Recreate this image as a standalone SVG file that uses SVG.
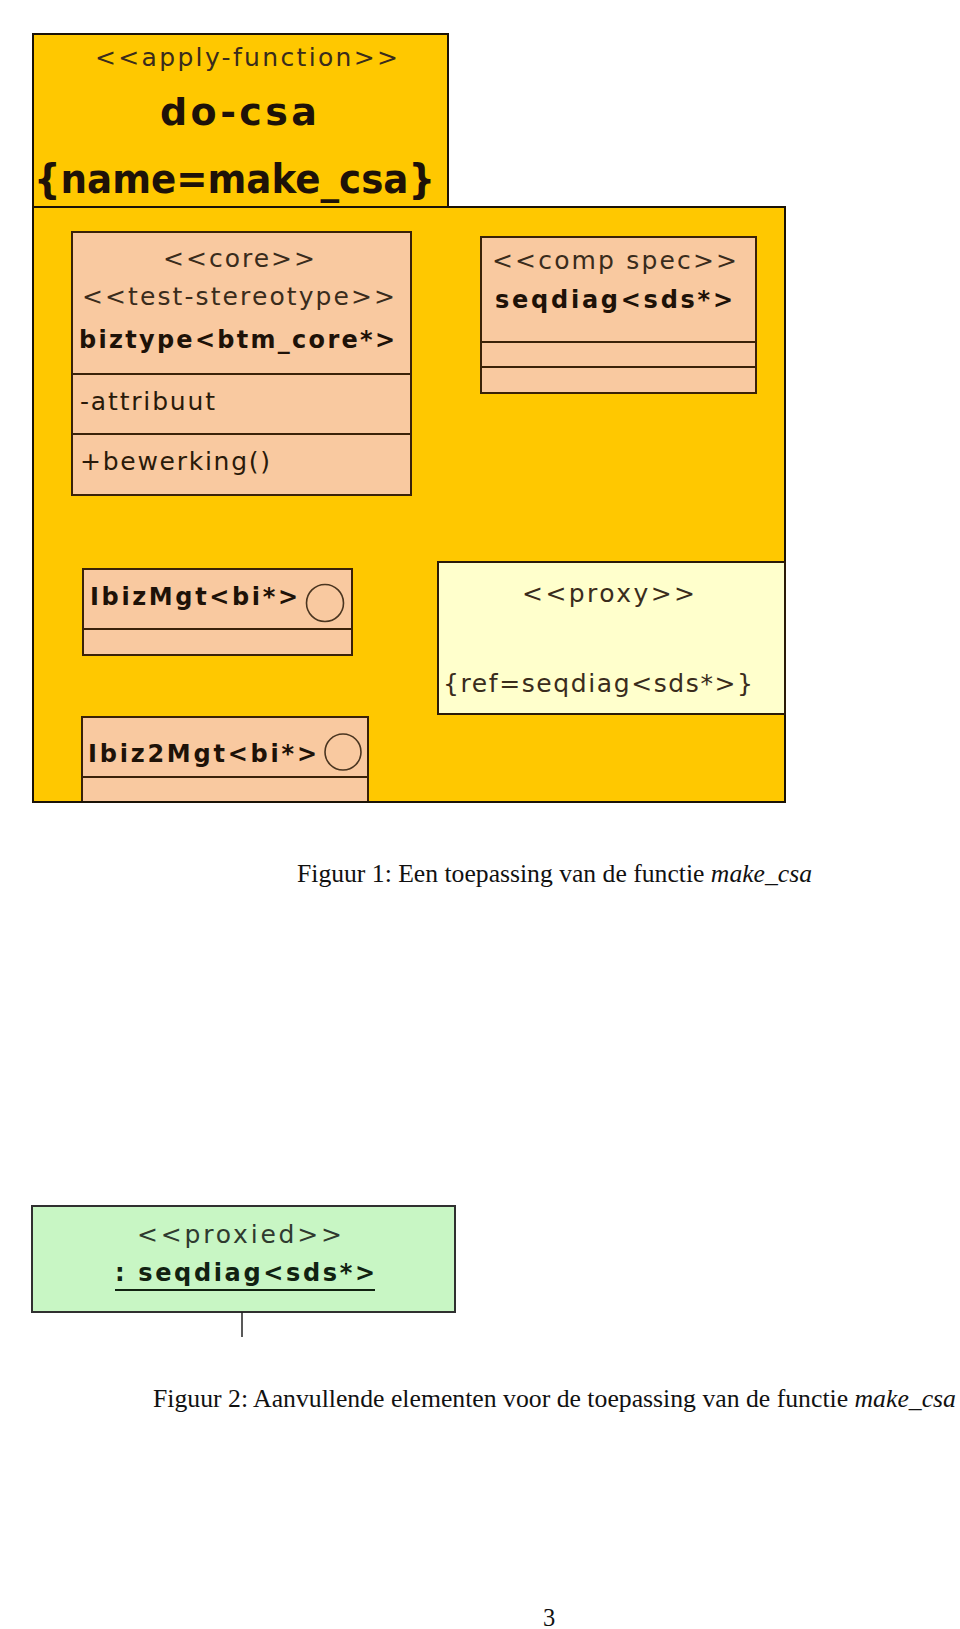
<svg xmlns="http://www.w3.org/2000/svg" width="960" height="1629" viewBox="0 0 960 1629">
<style>
.outer{fill:#FFC800;stroke:#1a1206;stroke-width:2}
.cls{fill:#F9C9A0;stroke:#3a2208;stroke-width:2}
.div{stroke:#3a2208;stroke-width:2}
.proxy{fill:#FFFFCC;stroke:#2a1a08;stroke-width:2}
.proxied{fill:#C8F6C4;stroke:#303030;stroke-width:2}
.st{font-family:"DejaVu Sans",sans-serif;font-size:25px;fill:#3a2c1c}
.b{font-family:"DejaVu Sans",sans-serif;font-weight:bold;font-size:24px;fill:#1e1208}
.n{font-family:"DejaVu Sans",sans-serif;font-size:25px;fill:#2a1a0a}
.cap{font-family:"Liberation Serif",serif;font-size:24.5px;fill:#111}
.iface{fill:none;stroke:#4a3520;stroke-width:1.6}
</style>
<rect width="960" height="1629" fill="#ffffff"/>
<g id="do-csa">
<rect class="outer" x="33" y="207" width="752" height="595"/>
<rect class="outer" x="33" y="34" width="415" height="173"/>
<text class="st" x="95" y="66" textLength="303" lengthAdjust="spacing">&lt;&lt;apply-function&gt;&gt;</text>
<text class="b" x="160" y="125" textLength="157" lengthAdjust="spacing" style="font-size:38px">do-csa</text>
<text class="b" x="34" y="193" textLength="401" lengthAdjust="spacingAndGlyphs" style="font-size:40px">{name=make_csa}</text>
</g>
<g id="biztype">
<rect class="cls" x="72" y="232" width="339" height="263"/>
<line class="div" x1="72" y1="374" x2="411" y2="374"/>
<line class="div" x1="72" y1="434" x2="411" y2="434"/>
<text class="st" x="163" y="267" textLength="152" lengthAdjust="spacing">&lt;&lt;core&gt;&gt;</text>
<text class="st" x="82" y="305" textLength="313" lengthAdjust="spacing">&lt;&lt;test-stereotype&gt;&gt;</text>
<text class="b" x="79" y="348" textLength="316" lengthAdjust="spacing">biztype&lt;btm_core*&gt;</text>
<text class="n" x="80" y="410" textLength="135" lengthAdjust="spacing">-attribuut</text>
<text class="n" x="80" y="470" textLength="190" lengthAdjust="spacing">+bewerking()</text>
</g>
<g id="seqdiag-spec">
<rect class="cls" x="481" y="237" width="275" height="156"/>
<line class="div" x1="481" y1="342" x2="756" y2="342"/>
<line class="div" x1="481" y1="367" x2="756" y2="367"/>
<text class="st" x="492" y="269" textLength="245" lengthAdjust="spacing">&lt;&lt;comp spec&gt;&gt;</text>
<text class="b" x="495" y="308" textLength="238" lengthAdjust="spacing">seqdiag&lt;sds*&gt;</text>
</g>
<g id="IbizMgt">
<rect class="cls" x="83" y="569" width="269" height="86"/>
<line class="div" x1="83" y1="629" x2="352" y2="629"/>
<text class="b" x="90" y="605" textLength="208" lengthAdjust="spacing">IbizMgt&lt;bi*&gt;</text>
<circle class="iface" cx="325" cy="603" r="18.5"/>
</g>
<g id="Ibiz2Mgt">
<rect class="cls" x="82" y="717" width="286" height="85"/>
<line class="div" x1="82" y1="777" x2="368" y2="777"/>
<text class="b" x="88" y="762" textLength="229" lengthAdjust="spacing">Ibiz2Mgt&lt;bi*&gt;</text>
<circle class="iface" cx="343" cy="752" r="18"/>
<line x1="33" y1="802" x2="785" y2="802" stroke="#1a1206" stroke-width="2"/>
</g>
<g id="proxy">
<rect class="proxy" x="438" y="562" width="347" height="152"/>
<text class="st" x="522" y="602" textLength="173" lengthAdjust="spacing">&lt;&lt;proxy&gt;&gt;</text>
<text class="st" x="443" y="692" textLength="310" lengthAdjust="spacing">{ref=seqdiag&lt;sds*&gt;}</text>
</g>
<g id="caption1">
<text class="cap" x="297" y="882" textLength="515" lengthAdjust="spacingAndGlyphs">Figuur 1: Een toepassing van de functie <tspan font-style="italic">make_csa</tspan></text>
</g>
<g id="proxied">
<rect class="proxied" x="32" y="1206" width="423" height="106"/>
<text class="st" x="137" y="1243" textLength="205" lengthAdjust="spacing" style="fill:#2f3a2f">&lt;&lt;proxied&gt;&gt;</text>
<text class="b" x="115" y="1281" textLength="260" lengthAdjust="spacing" style="fill:#112211">: seqdiag&lt;sds*&gt;</text>
<line x1="115" y1="1290" x2="375" y2="1290" stroke="#112211" stroke-width="2"/>
</g>
<g id="connectors">
<line x1="242" y1="1312" x2="242" y2="1337" stroke="#222" stroke-width="1.5"/>
</g>
<g id="caption2">
<text class="cap" x="153" y="1407" textLength="803" lengthAdjust="spacingAndGlyphs">Figuur 2: Aanvullende elementen voor de toepassing van de functie <tspan font-style="italic">make_csa</tspan></text>
</g>
<g id="page-number">
<text class="cap" x="549" y="1626" text-anchor="middle">3</text>
</g>
</svg>
